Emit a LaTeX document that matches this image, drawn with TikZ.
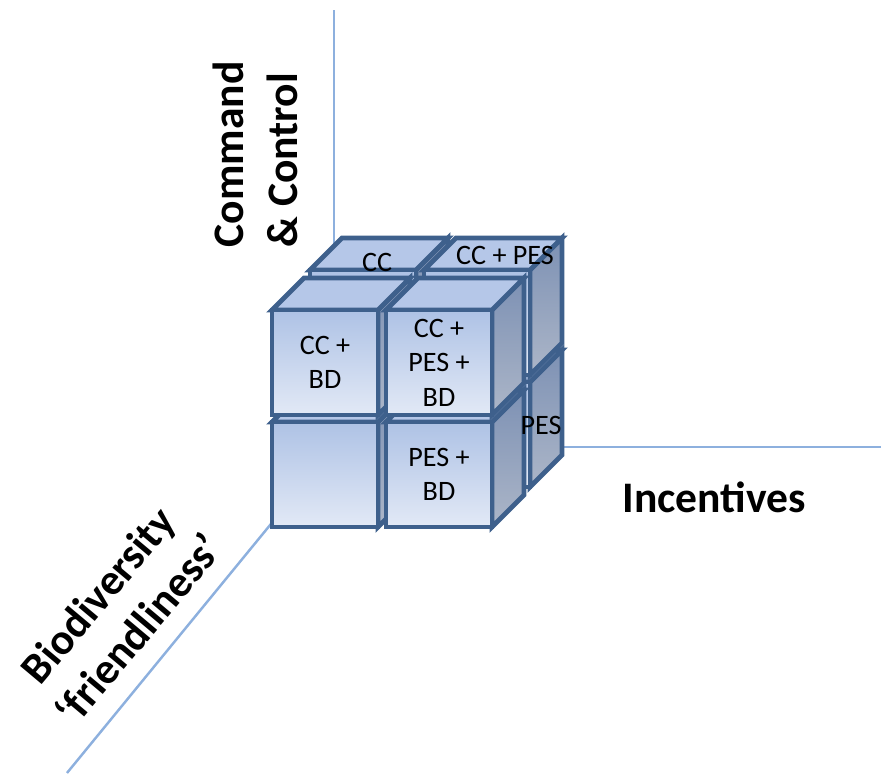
\documentclass[tikz,border=0pt]{standalone}
\usepackage{fontspec}
\setmainfont{Carlito}

\definecolor{edgeblue}{RGB}{62,96,140}
\definecolor{axisblue}{RGB}{141,176,222}
\definecolor{fronttop}{RGB}{174,194,229}
\definecolor{frontbot}{RGB}{226,233,246}
\definecolor{topfill}{RGB}{181,199,232}
\definecolor{sidetop}{RGB}{125,145,180}
\definecolor{sidebot}{RGB}{172,182,200}

\tikzset{
  face/.style={draw=edgeblue, line width=1.4pt},
  frontface/.style={face, top color=fronttop, bottom color=frontbot},
  topface/.style={face, fill=topfill},
  sideface/.style={face, top color=sidetop, bottom color=sidebot},
  axis/.style={draw=axisblue, line width=0.7pt},
  axislabel/.style={font=\fontsize{12.4}{15.2}\selectfont\bfseries, inner sep=0pt},
  celltext/.style={font=\fontsize{8}{9.8}\selectfont, align=center, inner sep=0pt},
}

% one block of the cube, front lower left corner at (#1,#2)
\newcommand{\cubeblock}[2]{
  \begin{scope}[shift={(#1,#2)}]
    \path[sideface] (1.06,0) -- (1.38,0.32) -- (1.38,1.37) -- (1.06,1.05) -- cycle;
    \path[topface] (0,1.05) -- (0.32,1.37) -- (1.38,1.37) -- (1.06,1.05) -- cycle;
    \path[frontface] (0,0) rectangle (1.06,1.05);
  \end{scope}
}

\begin{document}
\begin{tikzpicture}
\useasboundingbox (0,0) rectangle (8.81,7.75);

% axes
\coordinate (origin) at (3.34,3.28);
\coordinate (ctrlend) at (3.34,7.65);
\coordinate (incend) at (8.81,3.28);
\coordinate (bioend) at (0.67,0.02);
\draw[axis] (origin) -- (ctrlend);
\draw[axis] (origin) -- (incend);
\draw[axis] (origin) -- (bioend);

% back row
\cubeblock{3.10}{2.88}
\cubeblock{4.24}{2.88}
\cubeblock{3.10}{4.00}
\cubeblock{4.24}{4.00}

% front row
\cubeblock{2.72}{2.48}
\cubeblock{3.86}{2.48}
\cubeblock{2.72}{3.60}
\cubeblock{3.86}{3.60}

% labels in the blocks
\node[celltext] (cc) at (3.77,5.13) {CC};
\node[celltext] (ccpes) at (5.05,5.20) {CC + PES};
\node[celltext] (pes) at (5.41,3.50) {PES};
\node[celltext] (ccbd) at (3.25,4.125) {CC +\\BD};
\node[celltext] (ccpesbd) at (4.39,4.125) {CC +\\PES +\\BD};
\node[celltext] (pesbd) at (4.39,3.005) {PES +\\BD};

% axis labels
\node[axislabel, rotate=90, anchor=west, align=left] (ctrllabel) at (2.555,5.27) {Command\\\& Control};
\node[axislabel] (inclabel) at (7.14,2.78) {Incentives};
\node[axislabel, rotate=50, align=center] (biolabel) at (1.18,1.63) {Biodiversity\\‘friendliness’};

\end{tikzpicture}
\end{document}
